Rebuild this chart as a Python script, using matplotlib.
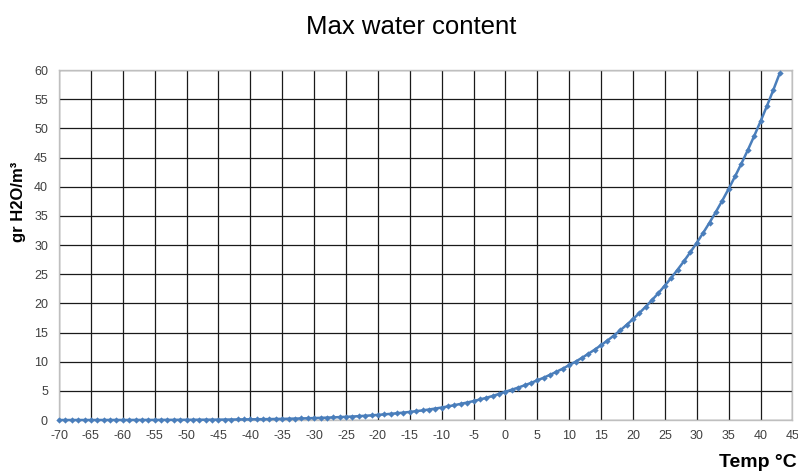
import matplotlib.pyplot as plt

plt.rcParams['font.family'] = ['Liberation Sans', 'DejaVu Sans']
plt.rcParams['axes.unicode_minus'] = False

# Temperature in degrees C, one point per degree
temps = list(range(-70, 44))

# Max water content (g/m3), -70 .. 43
water = [
    0.003, 0.0035, 0.004, 0.0045, 0.005, 0.006, 0.007, 0.008, 0.009, 0.010,   # -70 .. -61
    0.011, 0.012, 0.014, 0.016, 0.018, 0.021, 0.024, 0.027, 0.030, 0.034,     # -60 .. -51
    0.039, 0.044, 0.050, 0.055, 0.062, 0.070, 0.079, 0.089, 0.10, 0.11,       # -50 .. -41
    0.12, 0.13, 0.15, 0.16, 0.18, 0.20, 0.22, 0.25, 0.27, 0.30,               # -40 .. -31
    0.34, 0.37, 0.41, 0.45, 0.50, 0.55, 0.60, 0.66, 0.73, 0.80,               # -30 .. -21
    0.88, 0.97, 1.06, 1.16, 1.27, 1.39, 1.52, 1.65, 1.80, 1.97,               # -20 .. -11
    2.14, 2.34, 2.55, 2.77, 3.00, 3.25, 3.52, 3.81, 4.13, 4.47,               # -10 .. -1
    4.85, 5.20, 5.56, 5.95, 6.36, 6.80, 7.26, 7.75, 8.27, 8.82,               # 0 .. 9
    9.40, 10.01, 10.66, 11.35, 12.07, 12.83, 13.63, 14.48, 15.37, 16.31,      # 10 .. 19
    17.30, 18.34, 19.43, 20.58, 21.78, 23.05, 24.38, 25.78, 27.24, 28.78,     # 20 .. 29
    30.38, 32.07, 33.83, 35.68, 37.61, 39.63, 41.75, 43.96, 46.26, 48.67,     # 30 .. 39
    51.19, 53.82, 56.56, 59.41,                                               # 40 .. 43
]

x_ticks = list(range(-70, 46, 5))
y_ticks = list(range(0, 61, 5))

fig = plt.figure(figsize=(7.98, 4.73), dpi=100)
ax = fig.add_axes([0.074, 0.112, 0.919, 0.740])

ax.plot(temps, water, color='#4a7ebb', linewidth=1.8, marker='D', markersize=3.2,
        markeredgewidth=0, zorder=3, clip_on=False)

ax.set_xlim(-70, 45)
ax.set_ylim(0, 60)
ax.set_xticks(x_ticks)
ax.set_yticks(y_ticks)
ax.tick_params(length=0, labelsize=9, labelcolor='#404040')
ax.tick_params(axis='x', pad=7)
ax.tick_params(axis='y', pad=8)
ax.grid(True, color='#1a1a1a', linewidth=0.9)
ax.set_axisbelow(True)
for s in ax.spines.values():
    s.set_color('#bfbfbf')
    s.set_linewidth(1)

fig.text(0.515, 0.942, 'Max water content', ha='center', va='center', fontsize=18.5)
fig.text(0.023, 0.573, 'gr H2O/m³', rotation=90, ha='center', va='center',
         fontsize=12, fontweight='bold')
fig.text(0.95, 0.022, 'Temp °C', ha='center', va='center',
         fontsize=14, fontweight='bold')

fig.savefig('out.png', dpi=100)
